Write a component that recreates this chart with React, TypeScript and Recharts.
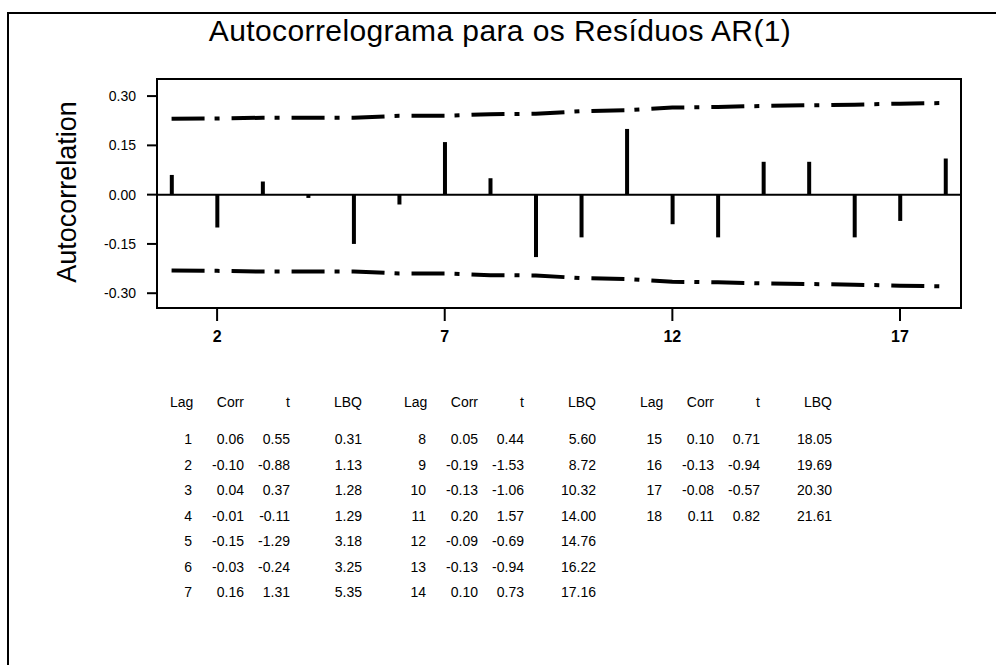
import {
  Bar,
  ComposedChart,
  Label,
  Line,
  ReferenceArea,
  ReferenceLine,
  XAxis,
  YAxis,
} from 'recharts';

const lags = [1, 2, 3, 4, 5, 6, 7, 8, 9, 10, 11, 12, 13, 14, 15, 16, 17, 18];
const corr = [0.06, -0.1, 0.04, -0.01, -0.15, -0.03, 0.16, 0.05, -0.19, -0.13, 0.2, -0.09, -0.13, 0.1, 0.1, -0.13, -0.08, 0.11];
const tStat = [0.55, -0.88, 0.37, -0.11, -1.29, -0.24, 1.31, 0.44, -1.53, -1.06, 1.57, -0.69, -0.94, 0.73, 0.71, -0.94, -0.57, 0.82];
const lbq = [0.31, 1.13, 1.28, 1.29, 3.18, 3.25, 5.35, 5.6, 8.72, 10.32, 14.0, 14.76, 16.22, 17.16, 18.05, 19.69, 20.3, 21.61];
// confidence limits
const upperLimit = [0.231, 0.232, 0.234, 0.234, 0.234, 0.24, 0.24, 0.245, 0.246, 0.254, 0.257, 0.265, 0.267, 0.27, 0.272, 0.274, 0.277, 0.279];
const lowerLimit = [-0.231, -0.232, -0.234, -0.234, -0.234, -0.24, -0.24, -0.245, -0.246, -0.254, -0.257, -0.265, -0.267, -0.27, -0.272, -0.274, -0.277, -0.279];

const xTicks = [2, 7, 12, 17];
const yTicks = [-0.3, -0.15, 0, 0.15, 0.3];
const X_DOMAIN: [number, number] = [0.68, 18.34];
const Y_DOMAIN: [number, number] = [-0.345, 0.352];

const FONT = 'Arial, "Liberation Sans", sans-serif';

const data = lags.map((lag, i) => ({
  lag,
  corr: corr[i],
  upper: upperLimit[i],
  lower: lowerLimit[i],
}));

const fmt = (v: number) => v.toFixed(2);

// table: three blocks of Lag / Corr / t / LBQ
const blockLeft = [192, 426, 662];
const blockRows = [lags.slice(0, 7), lags.slice(7, 14), lags.slice(14)];
const ROW_H = 25.5;

function Cell({ right, top, text }: { right: number; top: number; text: string }) {
  return (
    <div
      style={{
        position: 'absolute',
        left: right - 80,
        width: 80,
        top,
        textAlign: 'right',
        lineHeight: `${ROW_H}px`,
        fontSize: 14,
        whiteSpace: 'nowrap',
      }}
    >
      {text}
    </div>
  );
}

function StatsTable() {
  return (
    <>
      {blockLeft.map((x0, b) => {
        const cols = [x0, x0 + 52, x0 + 98, x0 + 170];
        return (
          <div key={b}>
            <div
              style={{
                position: 'absolute',
                left: x0 - 22,
                top: 390,
                lineHeight: `${ROW_H}px`,
                fontSize: 14,
              }}
            >
              Lag
            </div>
            <Cell right={cols[1]} top={390} text="Corr" />
            <Cell right={cols[2]} top={390} text="t" />
            <Cell right={cols[3]} top={390} text="LBQ" />
            {blockRows[b].map((lag, r) => {
              const i = lag - 1;
              const top = 427 + r * ROW_H;
              return (
                <div key={lag}>
                  <Cell right={cols[0]} top={top} text={String(lag)} />
                  <Cell right={cols[1]} top={top} text={fmt(corr[i])} />
                  <Cell right={cols[2]} top={top} text={fmt(tStat[i])} />
                  <Cell right={cols[3]} top={top} text={fmt(lbq[i])} />
                </div>
              );
            })}
          </div>
        );
      })}
    </>
  );
}

export default function App() {
  return (
    <div
      style={{
        position: 'absolute',
        left: 0,
        top: 0,
        width: 996,
        height: 665,
        background: '#fff',
        fontFamily: FONT,
        color: '#000',
        overflow: 'hidden',
      }}
    >
      {/* page frame: top and left edges only */}
      <div style={{ position: 'absolute', left: 8, top: 12, width: 988, height: 2, background: '#000' }} />
      <div style={{ position: 'absolute', left: 7, top: 12, width: 2, height: 653, background: '#000' }} />

      <div
        style={{
          position: 'absolute',
          left: 0,
          width: 1000,
          top: 16,
          textAlign: 'center',
          fontSize: 30,
          letterSpacing: 0.4,
          lineHeight: '30px',
        }}
      >
        Autocorrelograma para os Resíduos AR(1)
      </div>

      <div style={{ position: 'absolute', left: 0, top: 0 }}>
        <ComposedChart
          width={996}
          height={360}
          data={data}
          margin={{ top: 79, right: 35, bottom: 12, left: 77 }}
        >
          <ReferenceArea
            x1={X_DOMAIN[0]}
            x2={X_DOMAIN[1]}
            y1={Y_DOMAIN[0]}
            y2={Y_DOMAIN[1]}
            fill="none"
            stroke="#000"
            strokeWidth={2}
          />
          <XAxis
            dataKey="lag"
            type="number"
            domain={X_DOMAIN}
            allowDataOverflow
            ticks={xTicks}
            height={40}
            axisLine={false}
            tickSize={13}
            tickMargin={10}
            tickLine={{ stroke: '#000', strokeWidth: 2 }}
            tick={{ fontSize: 16, fontWeight: 'bold', fill: '#000', fontFamily: FONT }}
          />
          <YAxis
            type="number"
            domain={Y_DOMAIN}
            allowDataOverflow
            ticks={yTicks}
            width={80}
            axisLine={false}
            tickSize={10}
            tickMargin={11}
            tickFormatter={fmt}
            tickLine={{ stroke: '#000', strokeWidth: 2 }}
            tick={{ fontSize: 14, fill: '#000', fontFamily: FONT }}
          >
            <Label
              content={() => (
                <text
                  x={67}
                  y={192}
                  transform="rotate(-90 67 192)"
                  textAnchor="middle"
                  dominantBaseline="central"
                  fontSize={27}
                  fontFamily={FONT}
                  fill="#000"
                >
                  Autocorrelation
                </text>
              )}
            />
          </YAxis>
          <ReferenceLine y={0} stroke="#000" strokeWidth={2} />
          <Bar dataKey="corr" fill="#000" barSize={4} isAnimationActive={false} />
          <Line
            dataKey="upper"
            type="linear"
            stroke="#000"
            strokeWidth={4}
            strokeDasharray="33 10 5 12"
            dot={false}
            activeDot={false}
            isAnimationActive={false}
          />
          <Line
            dataKey="lower"
            type="linear"
            stroke="#000"
            strokeWidth={4}
            strokeDasharray="33 10 5 12"
            dot={false}
            activeDot={false}
            isAnimationActive={false}
          />
        </ComposedChart>
      </div>

      <StatsTable />
    </div>
  );
}
